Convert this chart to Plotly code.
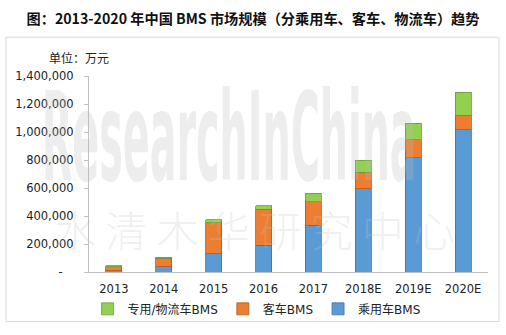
import plotly.graph_objects as go

# BMS market size in China, 10k CNY (万元), by vehicle segment
years = ["2013", "2014", "2015", "2016", "2017", "2018E", "2019E", "2020E"]
passenger = [10000, 37000, 130000, 190000, 335000, 595000, 816000, 1015000]
bus = [28000, 63000, 223000, 259000, 167000, 117000, 128000, 106000]
logistics = [5000, 6000, 20000, 26000, 60000, 88000, 119000, 163000]

ytick_vals = [0, 200000, 400000, 600000, 800000, 1000000, 1200000, 1400000]
ytick_text = ["-\u00a0\u00a0\u00a0", "200,000", "400,000", "600,000", "800,000",
              "1,000,000", "1,200,000", "1,400,000"]

LATIN_CJK = "DejaVu Sans, Noto Sans CJK SC, sans-serif"
CJK = "Noto Sans CJK SC, sans-serif"

fig = go.Figure()
fig.add_trace(go.Bar(
    x=years, y=passenger, name="乘用车BMS",
    marker=dict(color="#5b9bd5", line=dict(color="#41719c", width=0.8)),
))
fig.add_trace(go.Bar(
    x=years, y=bus, name="客车BMS",
    marker=dict(color="#ed7d31", line=dict(color="#ae5a21", width=0.8)),
))
fig.add_trace(go.Bar(
    x=years, y=logistics, name="专用/物流车BMS",
    marker=dict(color="#92d050", line=dict(color="#6a9a3a", width=0.8)),
))

fig.update_layout(
    width=506, height=335,
    margin=dict(l=89, r=18, t=76, b=59, pad=0),
    paper_bgcolor="white", plot_bgcolor="white",
    barmode="stack", bargap=0.68,
    showlegend=True,
    legend=dict(
        orientation="h", traceorder="reversed",
        x=0.42, xanchor="center", y=-0.188, yanchor="middle",
        font=dict(family=LATIN_CJK, size=12, color="#222222"),
        bgcolor="rgba(0,0,0,0)",
    ),
    title=dict(
        text="<b>图：2013-2020 年中国 BMS 市场规模（分乘用车、客车、物流车）趋势</b>",
        x=0.5, xanchor="center", xref="container",
        y=1 - 19.5 / 335, yanchor="middle", yref="container",
        font=dict(family=CJK, size=14.2, color="#111111"),
    ),
    xaxis=dict(
        showline=True, linecolor="#c0c0c0", linewidth=1,
        ticks="", showgrid=False, zeroline=False,
        ticklabelstandoff=6,
        tickfont=dict(family=LATIN_CJK, size=11.5, color="#222222"),
    ),
    yaxis=dict(
        range=[0, 1400000],
        tickvals=ytick_vals, ticktext=ytick_text,
        showline=True, linecolor="#c0c0c0", linewidth=1,
        ticks="outside", ticklen=4, tickcolor="#c0c0c0",
        ticklabelstandoff=8,
        showgrid=False, zeroline=False,
        tickfont=dict(family=LATIN_CJK, size=11.5, color="#222222"),
    ),
)

# outer chart frame
fig.add_shape(
    type="rect", xref="paper", yref="paper",
    x0=-0.208, x1=1.0276, y0=-0.2527, y1=1.198,
    line=dict(color="#d9d9d9", width=1), fillcolor="rgba(0,0,0,0)",
    layer="below",
)

# unit label
fig.add_annotation(
    text="单位：万元", xref="paper", yref="paper",
    x=-0.026, y=1.093, xanchor="center", yanchor="middle",
    showarrow=False, font=dict(family=CJK, size=12, color="#222222"),
)

# watermarks
fig.add_annotation(
    text="ResearchInChina", xref="paper", yref="paper",
    x=0.35, y=0.69, xanchor="center", yanchor="middle",
    showarrow=False,
    font=dict(family="Liberation Sans Narrow, DejaVu Sans Condensed, Roboto, sans-serif",
              size=60, weight="bold", color="rgba(185,185,190,0.26)"),
)
fig.add_annotation(
    text="水 清 木 华 研 究 中 心", xref="paper", yref="paper",
    x=0.415, y=0.221, xanchor="center", yanchor="middle",
    showarrow=False,
    font=dict(family=CJK, size=42, weight=300, color="rgba(195,195,200,0.26)"),
)

# stretch the Latin watermark vertically into a tall condensed shape
post_js = """
var gd = document.getElementById('{plot_id}');
gd.querySelectorAll('text.annotation-text').forEach(function(t){
  if (t.textContent === 'ResearchInChina') {
    var b = t.getBBox();
    var sx = 375 / b.width, sy = 2.05;
    var cx = b.x + b.width / 2, cy = b.y + b.height / 2;
    t.setAttribute('transform', 'translate(' + cx + ',' + cy + ') scale(' + sx + ',' + sy +
                   ') translate(' + (-cx) + ',' + (-cy) + ')');
  }
});
"""

fig.write_html("out.html", post_script=post_js)
